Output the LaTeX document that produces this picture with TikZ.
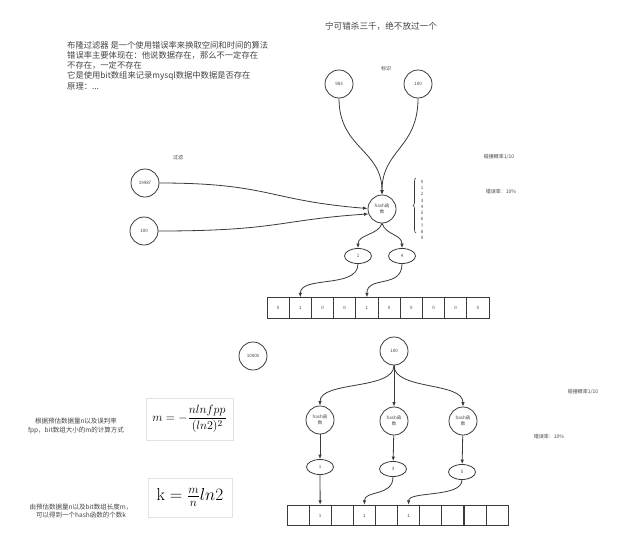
\documentclass[tikz,border=0pt]{standalone}
\usepackage[no-math]{fontspec}
\setmainfont{Noto Sans CJK SC}
\usetikzlibrary{arrows.meta,shapes.geometric,decorations.pathreplacing}
\definecolor{ink}{HTML}{3A3A3A}
\definecolor{txt}{HTML}{444444}
\definecolor{frame}{HTML}{E2E2E2}
\newcommand{\fsz}[1]{\fontsize{#1}{#1}\selectfont}

\begin{document}
\begin{tikzpicture}[x=1pt,y=-1pt,
	keycirc/.style={circle,draw=ink,line width=0.8pt,minimum size=28pt,inner sep=0pt,font=\fsz{4.5},text=txt},
	hashcirc/.style={keycirc,align=center,font=\fontsize{4.5}{6}\selectfont},
	posoval/.style={ellipse,draw=ink,line width=0.8pt,minimum width=27pt,minimum height=15pt,inner sep=0pt,font=\fsz{4.5},text=txt},
	bitcell/.style={rectangle,draw=ink,line width=0.8pt,minimum width=22.2pt,minimum height=20.5pt,inner sep=0pt,font=\fsz{4.5},text=txt},
	arrowlink/.style={draw=ink,line width=0.8pt,-{Latex[length=4.5pt,width=3.5pt]}},
	smalltext/.style={font=\fsz{5},text=txt},
	formulabox/.style={draw=frame,line width=0.6pt,inner sep=0pt,text=black}]
	\useasboundingbox[fill=white] (0,0) rectangle (640,536);

	\node[anchor=north west,align=left,inner sep=0pt,text=txt,font=\fontsize{8.3}{10.2}\selectfont] (intro) at (67,41) {布隆过滤器 是一个使用错误率来换取空间和时间的算法\\错误率主要体现在：他说数据存在，那么不一定存在\\不存在，一定不存在\\它是使用bit数组来记录mysql数据中数据是否存在\\原理：...};
	\node[text=txt,font=\fsz{8.6}] (motto) at (381,26) {宁可错杀三千，绝不放过一个};

	\node[smalltext] (idlabel) at (386,69) {标识};
	\node[smalltext] (filterlabel) at (178,158) {过滤};
	\node[smalltext] (rateA) at (499,157) {碰撞概率1/10};
	\node[smalltext] (errA) at (501,192) {错误率：10\%};
	\node[keycirc] (mark983) at (339,84) {983};
	\node[keycirc] (mark100) at (418,84) {100};
	\node[keycirc] (in19987) at (145,183) {19987};
	\node[keycirc] (in100) at (144,231) {100};
	\node[hashcirc] (hash) at (382,209) {hash函\\数};
	\node[posoval] (pos1) at (358,256) {1};
	\node[posoval] (pos4) at (402,256) {4};
	\foreach \v [count=\i from 0] in {0,1,0,0,1,0,0,0,0,0}
		\node[bitcell] (bit\i) at ({278.1+22.2*\i},308) {\v};
	\draw[ink,line width=0.6pt,decorate,decoration={brace,amplitude=3pt}] (416,233) -- (416,178);
	\foreach \d in {0,...,9}
		\node[font=\fsz{4.5},text=txt] (slot\d) at (422,{181.5+6.3*\d}) {\d};
	\draw[arrowlink] (mark983.south) .. controls +(0,50) and +(0,-45) .. (hash.north);
	\draw[arrowlink] (mark100.south) .. controls +(0,50) and +(0,-45) .. (hash.north);
	\draw[arrowlink] (in19987.east) .. controls +(110,0) and +(-100,-8) .. (hash.178);
	\draw[arrowlink] (in100.east) .. controls +(120,0) and +(-90,6) .. (hash.200);
	\draw[arrowlink] (hash.south) .. controls +(-4,12) and +(0,-14) .. (pos1.north);
	\draw[arrowlink] (hash.south) .. controls +(4,12) and +(0,-14) .. (pos4.north);
	\draw[arrowlink] (pos1.south) .. controls +(0,25) and +(0,-22) .. (bit1.north);
	\draw[arrowlink] (pos4.south) .. controls +(0,25) and +(0,-22) .. (bit4.north);

	\node[keycirc] (total) at (253,356) {10000};
	\node[keycirc] (key) at (394,351) {100};
	\node[hashcirc] (hashA) at (320,420) {hash函\\数};
	\node[hashcirc] (hashB) at (394,421) {hash函\\数};
	\node[hashcirc] (hashC) at (463,421) {hash函\\数};
	\node[posoval] (posA) at (320,467) {1};
	\node[posoval] (posB) at (393,469) {3};
	\node[posoval] (posC) at (462,472) {5};
	\foreach \v [count=\i from 0] in {{},1,{},1,{},1,{},{},{},{}}
		\node[bitcell] (cell\i) at ({298.1+22.1*\i},515.5) {\v};
	\draw[arrowlink] (key.south) .. controls +(0,25) and +(0,-25) .. (hashA.north);
	\draw[arrowlink] (key) -- (hashB);
	\draw[arrowlink] (key.south) .. controls +(0,25) and +(0,-25) .. (hashC.north);
	\draw[arrowlink] (hashA) -- (posA);
	\draw[arrowlink] (hashB) -- (posB);
	\draw[arrowlink] (hashC) -- (posC);
	\draw[arrowlink] (posA) -- (cell1);
	\draw[arrowlink] (posB.south) .. controls +(0,20) and +(0,-15) .. (cell3.north);
	\draw[arrowlink] (posC.south) .. controls +(0,18) and +(0,-14) .. (cell5.north);
	\node[smalltext] (rateB) at (583,392) {碰撞概率1/10};
	\node[smalltext] (errB) at (549,437) {错误率：10\%};

	\node[formulabox,minimum width=87pt,minimum height=42pt,font=\fsz{12.5}] (fpp) at (189.5,419) {$\displaystyle m=-\frac{nlnfpp}{(ln2)^2}$};
	\node[formulabox,minimum width=84pt,minimum height=39pt,font=\fsz{17}] (khash) at (190,497.5) {$\mathrm{k}=\frac{m}{n}ln2$};
	\node[font=\fontsize{6.5}{8.5}\selectfont,align=center,text=txt] (mnote) at (76,426) {根据预估数据量n以及误判率\\fpp，bit数组大小的m的计算方式};
	\node[font=\fontsize{6.5}{8.5}\selectfont,align=center,text=txt] (knote) at (81,511) {由预估数据量n以及bit数组长度m，\\可以得到一个hash函数的个数k};
\end{tikzpicture}
\end{document}
